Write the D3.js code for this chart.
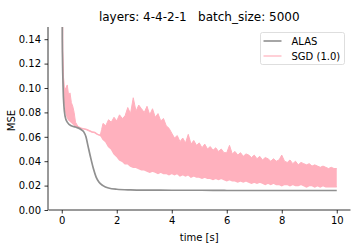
<!DOCTYPE html>
<html>
<head>
<meta charset="utf-8">
<script src="https://cdn.jsdelivr.net/npm/d3@7"></script>
<style>
  body { margin: 0; background: #fff; }
  text { font-family: "DejaVu Sans", sans-serif; fill: #000; }
</style>
</head>
<body>
<div class="chart"></div>
<script>
const svgWidth = 360
const svgHeight = 252

let margin = { top: 27, right: 9.5, bottom: 42, left: 48 }
let width = svgWidth - margin.left - margin.right
let height = svgHeight - margin.top - margin.bottom

// ALAS curve (time in seconds, MSE)
const alasTime = [0, 0.02, 0.05, 0.08, 0.12, 0.2, 0.35, 0.5, 0.7, 0.8, 0.88, 0.95, 1.05, 1.15, 1.25, 1.35, 1.5, 1.7, 2.0, 2.5, 3, 4, 5, 6, 7, 8, 9, 10]
const alasMse = [0.6, 0.14, 0.1, 0.085, 0.077, 0.072, 0.069, 0.068, 0.066, 0.064, 0.06, 0.053, 0.043, 0.034, 0.027, 0.023, 0.02, 0.018, 0.017, 0.0165, 0.0163, 0.0162, 0.0162, 0.016, 0.016, 0.016, 0.016, 0.016]

// SGD (1.0): noisy band, lower / upper envelope
const sgdTime = [0, 0.03, 0.06, 0.1, 0.15, 0.2, 0.25, 0.3, 0.35, 0.4, 0.45, 0.5, 0.6, 0.7, 0.8, 0.9, 1.0, 1.1, 1.2, 1.3, 1.4, 1.45,
  1.5, 1.6, 1.7, 1.8, 1.9, 2.0, 2.1, 2.2, 2.3, 2.4, 2.5, 2.6, 2.7, 2.8, 2.9, 3.0, 3.1, 3.2, 3.3, 3.4, 3.5, 3.6, 3.7, 3.8, 3.9,
  4.0, 4.1, 4.2, 4.3, 4.4, 4.5, 4.6, 4.7, 4.8, 4.9, 5.0, 5.1, 5.2, 5.3, 5.4, 5.5, 5.6, 5.7, 5.8, 5.9,
  6.0, 6.1, 6.2, 6.3, 6.4, 6.5, 6.6, 6.7, 6.8, 6.9, 7.0, 7.1, 7.2, 7.3, 7.4, 7.5, 7.6, 7.7, 7.8, 7.9,
  8.0, 8.1, 8.2, 8.3, 8.4, 8.5, 8.6, 8.7, 8.8, 8.9, 9.0, 9.1, 9.2, 9.3, 9.4, 9.5, 9.6, 9.7, 9.8, 9.9, 10.0]
const sgdLow = [0.6, 0.13, 0.105, 0.09, 0.08, 0.076, 0.074, 0.073, 0.072, 0.071, 0.07, 0.069, 0.068, 0.067, 0.0665, 0.066, 0.065, 0.064, 0.0635, 0.062, 0.0612, 0.06,
  0.058, 0.056, 0.052, 0.05, 0.046, 0.044, 0.041, 0.04, 0.038, 0.038, 0.036, 0.035, 0.035, 0.034, 0.033, 0.033, 0.032, 0.031, 0.032, 0.031, 0.03, 0.031, 0.03, 0.03, 0.029,
  0.03, 0.029, 0.03, 0.028, 0.029, 0.028, 0.029, 0.027, 0.028, 0.027, 0.027, 0.026, 0.027, 0.026, 0.026, 0.025, 0.026, 0.025, 0.026, 0.025,
  0.024, 0.025, 0.024, 0.024, 0.023, 0.024, 0.023, 0.024, 0.023, 0.022, 0.023, 0.022, 0.023, 0.022, 0.021, 0.022, 0.021, 0.022, 0.021, 0.021,
  0.02, 0.021, 0.021, 0.02, 0.021, 0.02, 0.02, 0.021, 0.02, 0.019, 0.02, 0.02, 0.019, 0.02, 0.019, 0.02, 0.019, 0.019, 0.019, 0.019, 0.019]
const sgdHigh = [0.6, 0.13, 0.11, 0.098, 0.1, 0.1025, 0.094, 0.096, 0.088, 0.085, 0.08, 0.072, 0.068, 0.067, 0.0665, 0.066, 0.065, 0.064, 0.0635, 0.062, 0.0612, 0.066,
  0.071, 0.069, 0.074, 0.072, 0.076, 0.073, 0.078, 0.075, 0.077, 0.084, 0.079, 0.092, 0.081, 0.086, 0.083, 0.08, 0.085, 0.078, 0.083, 0.076, 0.079, 0.073, 0.075, 0.069, 0.067,
  0.063, 0.059, 0.061, 0.056, 0.059, 0.055, 0.062, 0.054, 0.057, 0.053, 0.055, 0.051, 0.054, 0.05, 0.052, 0.049, 0.051, 0.048, 0.05, 0.047,
  0.047, 0.053, 0.046, 0.048, 0.045, 0.047, 0.044, 0.046, 0.045, 0.043, 0.045, 0.042, 0.044, 0.041, 0.043, 0.042, 0.04, 0.042, 0.04, 0.041,
  0.045, 0.04, 0.039, 0.041, 0.038, 0.04, 0.037, 0.039, 0.038, 0.037, 0.038, 0.036, 0.037, 0.036, 0.035, 0.036, 0.035, 0.034, 0.035, 0.034, 0.034]

const xTicks = [0, 2, 4, 6, 8, 10]
const yTicks = [0, 0.02, 0.04, 0.06, 0.08, 0.1, 0.12, 0.14]

const alasColor = "#909090"
const sgdColor = "#ffb1be"

let svg = d3
  .select(".chart")
  .append("svg")
  .attr("width", svgWidth)
  .attr("height", svgHeight)

let chartGroup = svg
  .append("g")
  .attr("transform", `translate(${margin.left}, ${margin.top})`)

let xScale = d3.scaleLinear().domain([-0.5, 10.5]).range([0, width])
let yScale = d3.scaleLinear().domain([0, 0.15]).range([height, 0])

chartGroup
  .append("clipPath")
  .attr("id", "plot-clip")
  .append("rect")
  .attr("width", width)
  .attr("height", height)

let plot = chartGroup.append("g").attr("clip-path", "url(#plot-clip)")

let sgdData = sgdTime.map((t, i) => ({ t: t, lo: sgdLow[i], hi: sgdHigh[i] }))
let alasData = alasTime.map((t, i) => ({ t: t, v: alasMse[i] }))

plot
  .append("path")
  .datum(sgdData)
  .attr("d", d3.area().x(d => xScale(d.t)).y0(d => yScale(d.lo)).y1(d => yScale(d.hi)))
  .attr("fill", sgdColor)

plot
  .append("path")
  .datum(sgdData)
  .attr("d", d3.line().x(d => xScale(d.t)).y(d => yScale(d.lo)))
  .attr("fill", "none")
  .attr("stroke", sgdColor)
  .attr("stroke-width", 1.5)

plot
  .append("path")
  .datum(sgdData)
  .attr("d", d3.line().x(d => xScale(d.t)).y(d => yScale(d.hi)))
  .attr("fill", "none")
  .attr("stroke", sgdColor)
  .attr("stroke-width", 1)

plot
  .append("path")
  .datum(alasData)
  .attr("d", d3.line().curve(d3.curveMonotoneX).x(d => xScale(d.t)).y(d => yScale(d.v)))
  .attr("fill", "none")
  .attr("stroke", alasColor)
  .attr("stroke-width", 1.7)

// axes
let xAxis = chartGroup
  .append("g")
  .attr("transform", `translate(0, ${height})`)
  .call(d3.axisBottom(xScale).tickValues(xTicks).tickSize(3.5).tickPadding(3.5).tickFormat(d3.format("d")))

let yAxis = chartGroup
  .append("g")
  .call(d3.axisLeft(yScale).tickValues(yTicks).tickSize(3.5).tickPadding(3.5).tickFormat(d3.format(".2f")))

for (let ax of [xAxis, yAxis]) {
  ax.select(".domain").attr("stroke", "#000").attr("stroke-width", 0.8)
  ax.selectAll(".tick line").attr("stroke", "#000").attr("stroke-width", 0.8)
  ax.selectAll(".tick text").attr("font-size", 10).attr("font-family", "DejaVu Sans").attr("fill", "#000")
}
xAxis.select(".domain").attr("d", `M0.5,0H${width}`)
yAxis.select(".domain").attr("d", `M0,0V${height}`)

// labels
chartGroup
  .append("text")
  .attr("x", width / 2)
  .attr("y", -6)
  .attr("text-anchor", "middle")
  .attr("font-size", 12)
  .text("layers: 4-4-2-1   batch_size: 5000")
  .style("white-space", "pre")

chartGroup
  .append("text")
  .attr("x", width / 2)
  .attr("y", height + 31)
  .attr("text-anchor", "middle")
  .attr("font-size", 10)
  .text("time [s]")

chartGroup
  .append("text")
  .attr("transform", "rotate(-90)")
  .attr("x", -(height / 2 + 2))
  .attr("y", -margin.left + 14.5)
  .attr("text-anchor", "middle")
  .attr("font-size", 10)
  .text("MSE")

// legend
let legend = svg.append("g").attr("transform", "translate(260.5, 32.5)")

legend
  .append("rect")
  .attr("width", 84)
  .attr("height", 32)
  .attr("rx", 2)
  .attr("fill", "#fff")
  .attr("fill-opacity", 0.8)
  .attr("stroke", "#d6d6d6")
  .attr("stroke-width", 0.8)

const legendNames = ["ALAS", "SGD (1.0)"]
const legendColors = [alasColor, "#ffc4cd"]

legendNames.forEach((name, i) => {
  let row = legend.append("g").attr("transform", `translate(0, ${8.5 + i * 15})`)
  row
    .append("line")
    .attr("x1", 3)
    .attr("x2", 21)
    .attr("stroke", legendColors[i])
    .attr("stroke-width", 1.6)
  row
    .append("text")
    .attr("x", 31)
    .attr("y", 3.6)
    .attr("font-size", 10)
    .text(name)
})
</script>
</body>
</html>
